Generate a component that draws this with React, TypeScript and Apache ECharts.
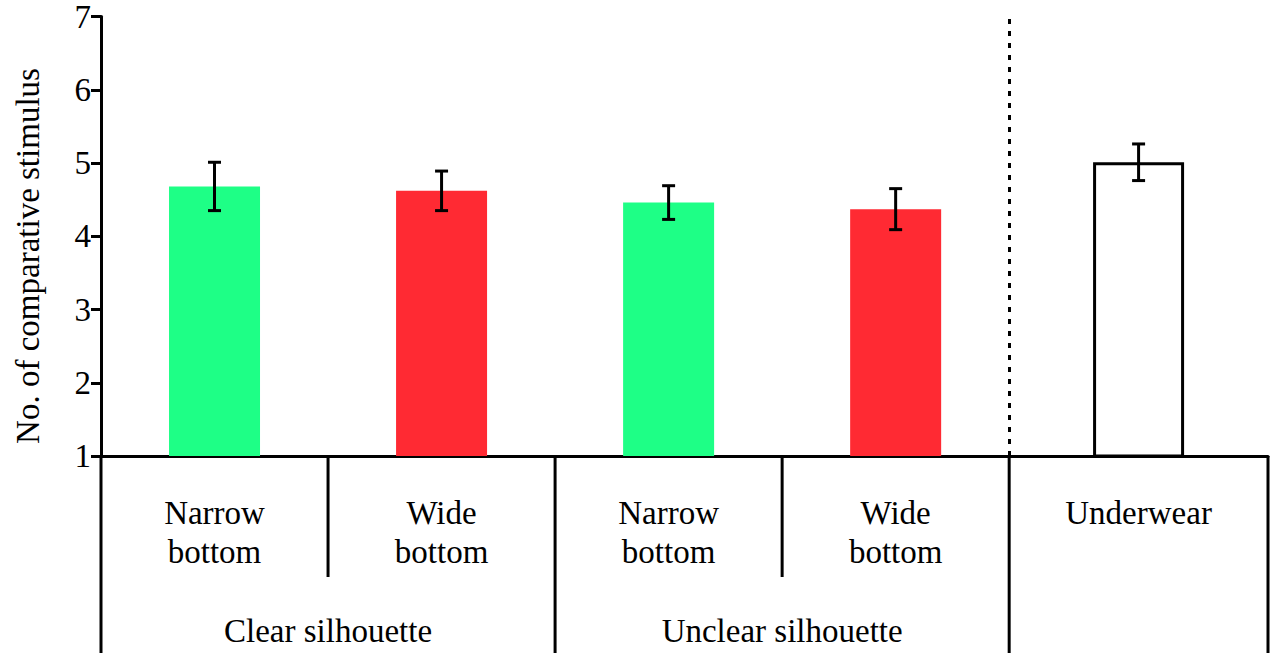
import React, { useEffect, useRef } from "react";
import * as echarts from "echarts";

const categories = ["Narrow\nbottom", "Wide\nbottom", "Narrow\nbottom", "Wide\nbottom", "Underwear"];
const positions = [0.5, 1.5, 2.5, 3.5, 4.57];
const means = [4.68, 4.62, 4.46, 4.37, 5.01];
const errors = [0.33, 0.27, 0.23, 0.28, 0.25];
const groups = ["Clear silhouette", "Unclear silhouette"];
const groupSpans = [[0, 2], [2, 4]];
const boundaries = [0, 1, 2, 3, 4, 5.14];
const longBoundaries = [0, 2, 4, 5.14];
const shortBoundaries = [1, 3];
const yTicks = [1, 2, 3, 4, 5, 6, 7];
const fills = ["#1eff86", "#ff2a33", "#1eff86", "#ff2a33", "#ffffff"];
const outlined = [false, false, false, false, true];
const yTitle = "No. of comparative stimulus";

const FONT = "Liberation Serif";
const FS = 33;

export default function App() {
  const ref = useRef<HTMLDivElement>(null);
  useEffect(() => {
    if (!ref.current) return;
    document.body.style.margin = "0";
    const chart = echarts.init(ref.current, undefined, { renderer: "svg" });
    const xMax = boundaries[boundaries.length - 1];
    chart.setOption({
      animation: false,
      textStyle: { fontFamily: FONT },
      grid: { left: 101, top: 15, right: 5, bottom: 197, containLabel: false },
      xAxis: {
        type: "value",
        min: 0,
        max: xMax,
        axisLine: { show: true, lineStyle: { color: "#000", width: 3 } },
        axisTick: { show: false },
        axisLabel: { show: false },
        splitLine: { show: false },
      },
      yAxis: {
        type: "value",
        min: yTicks[0],
        max: yTicks[yTicks.length - 1],
        interval: 1,
        axisLine: { show: true, lineStyle: { color: "#000", width: 3 } },
        axisTick: { show: true, length: 10, lineStyle: { color: "#000", width: 3 } },
        axisLabel: { color: "#000", fontFamily: FONT, fontSize: FS, lineHeight: 24, margin: 10 },
        splitLine: { show: false },
      },
      series: [
        {
          type: "bar",
          barWidth: 91,
          clip: true,
          data: positions.map((x, i) => ({
            value: [x, means[i]],
            itemStyle: {
              color: fills[i],
              borderColor: outlined[i] ? "#000" : fills[i],
              borderWidth: outlined[i] ? 3 : 0,
            },
          })),
          markLine: {
            silent: true,
            symbol: "none",
            label: { show: false },
            lineStyle: { color: "#000", width: 3, type: [5, 7] },
            data: [{ xAxis: boundaries[4] }],
          },
        },
        {
          type: "custom",
          data: positions.map((x, i) => [x, means[i] - errors[i], means[i] + errors[i]]),
          renderItem: (params: any, api: any) => {
            const x = api.value(0);
            const top = api.coord([x, api.value(2)]);
            const bot = api.coord([x, api.value(1)]);
            const hw = 6.5;
            const style = { stroke: "#000", lineWidth: 3 };
            return {
              type: "group",
              children: [
                { type: "line", shape: { x1: top[0], y1: top[1], x2: bot[0], y2: bot[1] }, style },
                { type: "line", shape: { x1: top[0] - hw, y1: top[1], x2: top[0] + hw, y2: top[1] }, style },
                { type: "line", shape: { x1: bot[0] - hw, y1: bot[1], x2: bot[0] + hw, y2: bot[1] }, style },
              ],
            };
          },
          z: 5,
        },
      ],
    });

    const px = (v: number) => chart.convertToPixel({ xAxisIndex: 0 }, v) as number;
    const axisY = chart.convertToPixel({ yAxisIndex: 0 }, yTicks[0]) as number;
    const elements: any[] = [];
    longBoundaries.forEach((b) => {
      elements.push({
        type: "line",
        shape: { x1: px(b), y1: axisY, x2: px(b), y2: 660 },
        style: { stroke: "#000", lineWidth: 3 },
      });
    });
    shortBoundaries.forEach((b) => {
      elements.push({
        type: "line",
        shape: { x1: px(b), y1: axisY, x2: px(b), y2: 577 },
        style: { stroke: "#000", lineWidth: 3 },
      });
    });
    categories.forEach((c, i) => {
      const cx = (px(boundaries[i]) + px(boundaries[i + 1])) / 2;
      elements.push({
        type: "text",
        x: cx,
        y: 493,
        style: {
          text: c,
          fill: "#000",
          fontSize: FS,
          fontFamily: FONT,
          lineHeight: 39,
          align: "center",
          verticalAlign: "top",
        },
      });
    });
    groups.forEach((g, i) => {
      const cx = (px(groupSpans[i][0]) + px(groupSpans[i][1])) / 2;
      elements.push({
        type: "text",
        x: cx,
        y: 631,
        style: {
          text: g,
          fill: "#000",
          fontSize: FS,
          fontFamily: FONT,
          align: "center",
          verticalAlign: "middle",
        },
      });
    });
    elements.push({
      type: "text",
      x: 28,
      y: 256,
      rotation: Math.PI / 2,
      style: {
        text: yTitle,
        fill: "#000",
        fontSize: FS,
        fontFamily: FONT,
        align: "center",
        verticalAlign: "middle",
      },
    });
    chart.setOption({ graphic: { elements } });

    return () => chart.dispose();
  }, []);
  return <div ref={ref} style={{ width: 1273, height: 653, background: "#fff" }} />;
}
